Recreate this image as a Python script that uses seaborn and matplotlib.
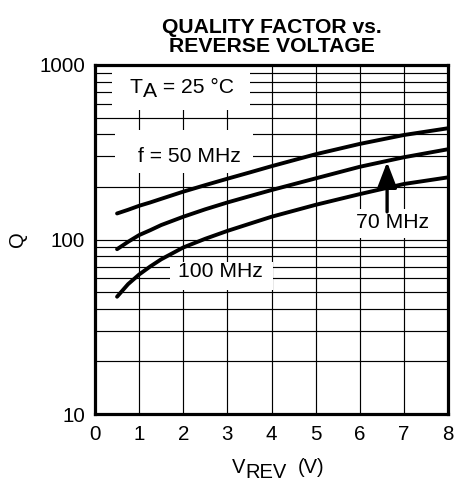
import numpy as np
import pandas as pd
import matplotlib
matplotlib.use("Agg")
import matplotlib.pyplot as plt
import seaborn as sns
from matplotlib.ticker import FixedLocator, FixedFormatter, NullFormatter
from matplotlib.patches import Rectangle

# ---- data ----
vrev = [0.5, 0.75, 1.0, 1.25, 1.5, 2.0, 2.5, 3.0, 3.5, 4.0, 5.0, 6.0, 7.0, 8.0]
q_50mhz = [141, 148, 156, 163, 171, 188, 205, 223, 242, 263, 308, 353, 397, 434]
q_70mhz = [88, 97, 106, 113, 121, 135, 149, 163, 177, 192, 224, 261, 296, 329]
q_100mhz = [47, 55.5, 63, 70, 77, 90, 101, 112, 123, 135, 158, 182, 208, 227]
freq_names = ["50 MHz", "70 MHz", "100 MHz"]
x_ticks = [0, 1, 2, 3, 4, 5, 6, 7, 8]
y_ticks = [10, 100, 1000]
y_tick_labels = ["10", "100", "1000"]
y_minor = [20, 30, 40, 50, 60, 70, 80, 90, 200, 300, 400, 500, 600, 700, 800, 900]

sns.set_theme(style="white")
plt.rcParams["font.family"] = ["Liberation Sans", "DejaVu Sans"]
plt.rcParams["mathtext.default"] = "regular"
for k in ["text.color", "axes.labelcolor", "xtick.color", "ytick.color"]:
    plt.rcParams[k] = "black"

df = pd.DataFrame({
    "vrev": vrev * 3,
    "q": q_50mhz + q_70mhz + q_100mhz,
    "freq": [freq_names[0]] * len(vrev) + [freq_names[1]] * len(vrev) + [freq_names[2]] * len(vrev),
})

fig = plt.figure(figsize=(4.59, 4.82), dpi=100)
ax = fig.add_axes([95 / 459, 1 - 414 / 482, (448 - 95) / 459, (414 - 65) / 482])

sns.lineplot(data=df, x="vrev", y="q", hue="freq", palette=["black"] * 3,
             linewidth=2.8, legend=False, ax=ax, estimator=None, sort=True,
             zorder=5)
for ln in ax.get_lines():
    ln.set_solid_joinstyle("round")

ax.set_yscale("log")
ax.set_xlim(0, 8)
ax.set_ylim(10, 1000)
ax.xaxis.set_major_locator(FixedLocator(x_ticks))
ax.yaxis.set_major_locator(FixedLocator(y_ticks))
ax.yaxis.set_major_formatter(FixedFormatter(y_tick_labels))
ax.yaxis.set_minor_locator(FixedLocator(y_minor))
ax.yaxis.set_minor_formatter(NullFormatter())
ax.set_axisbelow(True)
ax.grid(True, which="both", axis="both", color="black", linewidth=0.85)
ax.tick_params(axis="both", which="both", length=0, labelsize=14.8, colors="black")
ax.tick_params(axis="y", pad=7)
ax.tick_params(axis="x", pad=8)
for s in ax.spines.values():
    s.set_color("black")
    s.set_linewidth(2.3)

ax.set_xlabel("")
ax.set_ylabel("Q", fontsize=14.5, labelpad=9, color="black")
ax.set_title("QUALITY FACTOR vs.\nREVERSE VOLTAGE", fontweight="bold",
             fontsize=15.2, pad=9, linespacing=1.05, color="black")

# white label boxes that mask the grid
for (x0, x1, y0, y1) in [(0.385, 3.51, 552, 1000), (0.45, 3.58, 240, 424),
                         (1.70, 4.03, 51.4, 74.3), (5.78, 7.71, 102, 150)]:
    ax.add_patch(Rectangle((x0, y0), x1 - x0, y1 - y0, facecolor="white",
                           edgecolor="none", zorder=1.5))

fs = 15.2
t1 = ax.text(0.79, 691, "T", fontsize=fs, va="baseline", ha="left", zorder=3)
t2 = ax.annotate("A", xy=(1, 0), xycoords=t1, xytext=(0, -3), textcoords="offset points",
                 fontsize=fs, va="bottom", ha="left", zorder=3)
ax.annotate(" = 25 °C", xy=(1, 0), xycoords=t2, xytext=(0, 3), textcoords="offset points",
            fontsize=fs, va="bottom", ha="left", zorder=3)

ax.text(0.975, 278, "f = 50 MHz", fontsize=fs, va="baseline", ha="left", zorder=3)
ax.text(1.88, 61, "100 MHz", fontsize=fs, va="baseline", ha="left", zorder=3)
ax.text(5.92, 116, "70 MHz", fontsize=fs, va="baseline", ha="left", zorder=3)
ax.annotate("", xy=(6.62, 278), xytext=(6.62, 144),
            arrowprops=dict(arrowstyle="-|>,head_length=1.3,head_width=0.5",
                            lw=2.4, color="black", shrinkA=0, shrinkB=0),
            zorder=6)

# x axis label V_REV (V)
v = fig.text(232 / 459, 1 - 473 / 482, "V", fontsize=14.5, va="baseline", ha="left")
r = ax.annotate("REV", xy=(1, 0), xycoords=v, xytext=(0, -3.3), textcoords="offset points",
                fontsize=14.5, va="bottom", ha="left", annotation_clip=False)
ax.annotate("(V)", xy=(1, 0), xycoords=r, xytext=(8, 3.3), textcoords="offset points",
            fontsize=14.5, va="bottom", ha="left", annotation_clip=False)

fig.savefig("out.png", dpi=100, facecolor="white")
